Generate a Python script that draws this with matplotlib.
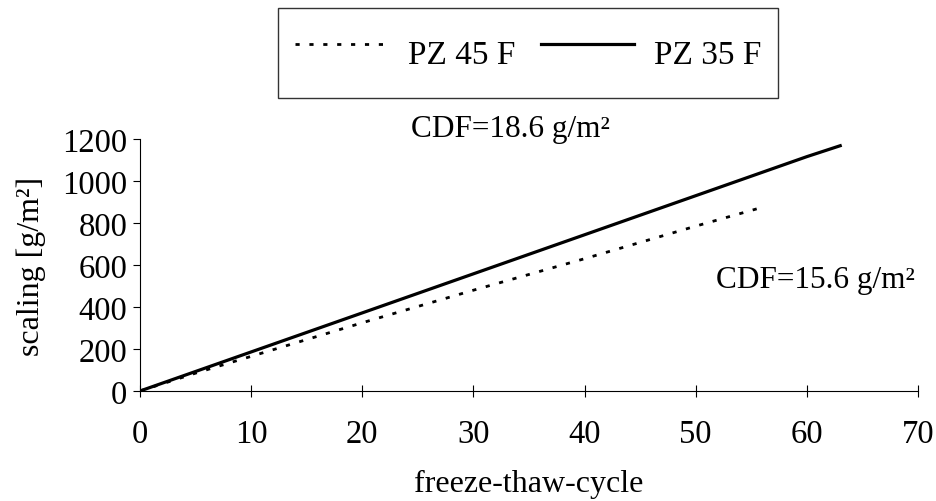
import matplotlib
matplotlib.use("Agg")
import matplotlib.pyplot as plt
import numpy as np

# data
cycles_45 = [0, 5, 10, 20, 30, 40, 50, 56]
scaling_45 = [0, 85, 165, 325, 480, 630, 785, 875]
cycles_35 = [0, 5, 10, 20, 30, 40, 50, 60, 63]
scaling_35 = [0, 93, 186, 372, 558, 744, 930, 1116, 1168]
series_names = ["PZ 45 F", "PZ 35 F"]
cdf_labels = ["CDF=18.6 g/m²", "CDF=15.6 g/m²"]

plt.rcParams['font.family'] = ['Liberation Serif', 'DejaVu Serif']

fig = plt.figure(figsize=(9.36, 5.02), dpi=100)
ax = fig.add_axes([140/936, 1-392/502, 778/936, 252/502])

ax.plot(cycles_45, scaling_45, color='black', lw=2.0, linestyle=(0, (1.5, 3.5)),
        label=series_names[0])
ax.plot(cycles_35, scaling_35, color='black', lw=2.3, label=series_names[1])

ax.set_xlim(0, 70)
ax.set_ylim(0, 1200)
ax.set_xticks(np.arange(0, 71, 10))
ax.set_yticks(np.arange(0, 1201, 200))
ax.spines['top'].set_visible(False)
ax.spines['right'].set_visible(False)
ax.tick_params(axis='x', direction='inout', length=8, labelsize=23.5, pad=16)
ax.tick_params(axis='y', direction='out', length=5, labelsize=23.5, pad=4)
ax.set_xlabel("freeze-thaw-cycle", fontsize=23, labelpad=14)
ax.set_ylabel("scaling [g/m²]", fontsize=23, labelpad=12)

ax.text(33.3, 1250, cdf_labels[0], fontsize=22.5, ha='center', va='center', clip_on=False)
ax.text(60.8, 533, cdf_labels[1], fontsize=22.5, ha='center', va='center')

leg = fig.legend(loc='center', bbox_to_anchor=(528/936, 1-54/502), ncol=2,
                 fontsize=24, frameon=True, fancybox=False, edgecolor='black',
                 handlelength=2.8, handletextpad=0.6, columnspacing=0.75,
                 borderpad=0.5, handleheight=2.2)
leg.get_frame().set_linewidth(1.0)

plt.savefig("out.png", dpi=100)
